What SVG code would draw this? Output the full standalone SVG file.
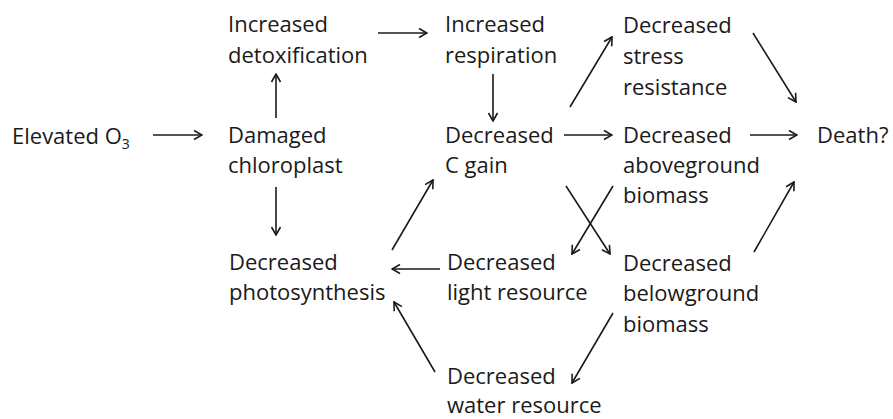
<svg xmlns="http://www.w3.org/2000/svg" width="893" height="419" viewBox="0 0 893 419">
<style>
text{font-family:"Open Sans","Liberation Sans",sans-serif;font-size:22px;fill:#1a1a1a}
.c line{stroke:#1a1a1a;stroke-width:1.6;fill:none;marker-end:url(#ah)}
</style>
<defs>
<marker id="ah" viewBox="0 0 12 12" refX="11" refY="6" markerWidth="12" markerHeight="12" markerUnits="userSpaceOnUse" orient="auto">
<path d="M3,1.5 L11,6 L3,10.5" fill="none" stroke="#1a1a1a" stroke-width="1.6"/>
</marker>
</defs>
<rect width="893" height="419" fill="#fff"/>
<g id="n-elevated"><text x="12" y="144">Elevated O<tspan dy="5" font-size="14">3</tspan></text></g>
<g id="n-damaged"><text x="228" y="143">Damaged</text><text x="228" y="173">chloroplast</text></g>
<g id="n-detox"><text x="228" y="32">Increased</text><text x="228" y="63">detoxification</text></g>
<g id="n-resp"><text x="445" y="32">Increased</text><text x="445" y="63">respiration</text></g>
<g id="n-cgain"><text x="445" y="143">Decreased</text><text x="445" y="173">C gain</text></g>
<g id="n-stress"><text x="623" y="33">Decreased</text><text x="623" y="64">stress</text><text x="623" y="95">resistance</text></g>
<g id="n-above"><text x="623" y="143">Decreased</text><text x="623" y="173">aboveground</text><text x="623" y="203">biomass</text></g>
<g id="n-death"><text x="817" y="143">Death?</text></g>
<g id="n-photo"><text x="229" y="270">Decreased</text><text x="229" y="300">photosynthesis</text></g>
<g id="n-light"><text x="447" y="270">Decreased</text><text x="447" y="300">light resource</text></g>
<g id="n-below"><text x="623" y="271">Decreased</text><text x="623" y="301">belowground</text><text x="623" y="332">biomass</text></g>
<g id="n-water"><text x="447" y="384">Decreased</text><text x="447" y="413">water resource</text></g>
<g class="c" id="connectors">
<line x1="153" y1="135" x2="202" y2="135"/>
<line x1="276" y1="118" x2="276" y2="74"/>
<line x1="276" y1="187" x2="276" y2="235"/>
<line x1="378" y1="33" x2="427" y2="33"/>
<line x1="493" y1="74" x2="493" y2="121"/>
<line x1="564" y1="135" x2="612" y2="135"/>
<line x1="570" y1="107" x2="612" y2="37"/>
<line x1="753" y1="33" x2="796" y2="102"/>
<line x1="750" y1="135" x2="797" y2="135"/>
<line x1="754" y1="252" x2="794" y2="182"/>
<line x1="392" y1="250" x2="433" y2="180"/>
<line x1="440" y1="269" x2="392" y2="269"/>
<line x1="566" y1="186" x2="610" y2="254"/>
<line x1="613" y1="186" x2="572" y2="254"/>
<line x1="435" y1="372" x2="394" y2="302"/>
<line x1="613" y1="313" x2="572" y2="383"/>
</g>
</svg>
